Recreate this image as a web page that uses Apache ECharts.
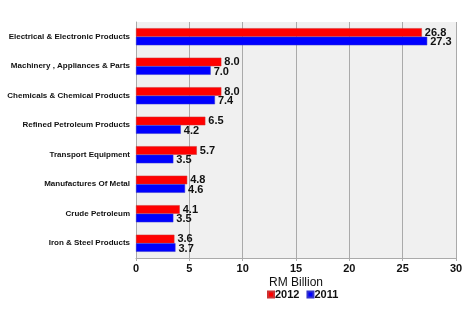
<!DOCTYPE html>
<html><head><meta charset="utf-8">
<script src="https://cdn.jsdelivr.net/npm/echarts@6/dist/echarts.min.js"></script>
<style>html,body{margin:0;padding:0;background:#fff}#c{width:472px;height:317px}</style>
</head><body><div id="c"></div>
<script>
const categories = ["Electrical & Electronic Products","Machinery , Appliances & Parts","Chemicals & Chemical Products","Refined Petroleum Products","Transport Equipment","Manufactures Of Metal","Crude Petroleum","Iron & Steel Products"];
const values2012 = [26.8, 8.0, 8.0, 6.5, 5.7, 4.8, 4.1, 3.6];
const values2011 = [27.3, 7.0, 7.4, 4.2, 3.5, 4.6, 3.5, 3.7];
const xTicks = [0, 5, 10, 15, 20, 25, 30];

const chart = echarts.init(document.getElementById('c'), null, {renderer: 'canvas'});
const font = 'Liberation Sans, Arial, sans-serif';
chart.setOption({
  animation: false,
  grid: {left: 136, right: 16, top: 22, bottom: 59, show: true, backgroundColor: '#f0f0f0', borderWidth: 0,
         containLabel: false, outerBoundsMode: 'none'},
  legend: {
    top: 284, left: 262, itemWidth: 6, itemHeight: 6, itemGap: 7,
    icon: 'rect',
    textStyle: {fontFamily: font, fontSize: 11, fontWeight: 'bold', color: '#111', padding: [0,0,0,-4]},
    data: ['2012', '2011']
  },
  xAxis: {
    type: 'value', min: xTicks[0], max: xTicks[xTicks.length-1], interval: 5,
    name: 'RM Billion', nameLocation: 'middle', nameGap: 19, nameMoveOverlap: false,
    nameTextStyle: {fontFamily: font, fontSize: 12, color: '#111'},
    axisLine: {show: true, lineStyle: {color: '#aaa'}},
    axisTick: {show: true, length: 3, lineStyle: {color: '#aaa'}},
    axisLabel: {fontFamily: font, fontSize: 11, fontWeight: 'bold', color: '#111', margin: 5},
    splitLine: {show: true, lineStyle: {color: '#aaa', width: 1}}
  },
  yAxis: {
    type: 'category', data: categories, inverse: true,
    axisLine: {show: true, lineStyle: {color: '#aaa'}},
    axisTick: {show: false},
    axisLabel: {fontFamily: font, fontSize: 8, fontWeight: 'bold', color: '#111', margin: 6}
  },
  series: [
    {name: '2012', type: 'bar', data: values2012, barGap: '0%', barCategoryGap: '42%',
     itemStyle: {color: '#ff0000', borderColor: '#c33', borderWidth: 0.5},
     label: {show: true, position: 'right', distance: 3, offset: [0, 0], formatter: p => p.value.toFixed(1),
       fontFamily: font, fontSize: 11, fontWeight: 'bold', color: '#111'}},
    {name: '2011', type: 'bar', data: values2011,
     itemStyle: {color: '#0000ff', borderColor: '#33c', borderWidth: 0.5},
     label: {show: true, position: 'right', distance: 3, offset: [0, 1], formatter: p => p.value.toFixed(1),
       fontFamily: font, fontSize: 11, fontWeight: 'bold', color: '#111'}}
  ]
});
</script></body></html>
